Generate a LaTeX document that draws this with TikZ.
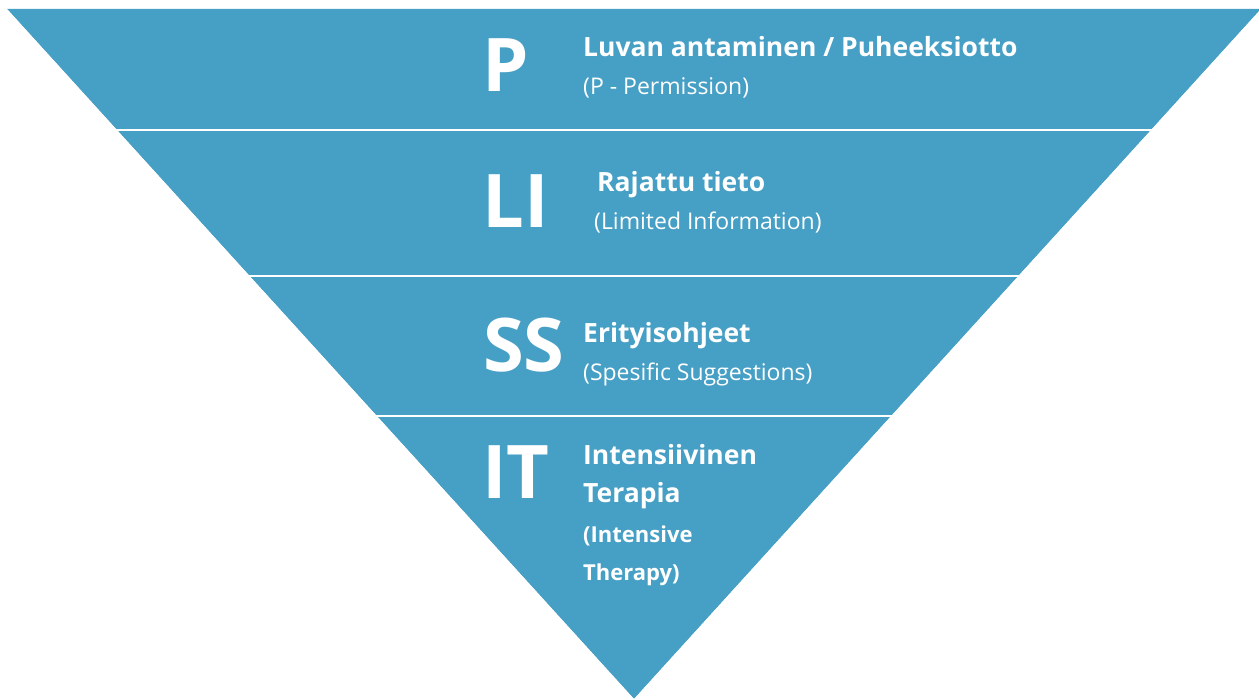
\documentclass[tikz,border=0pt]{standalone}
\usepackage{fontspec}
\setmainfont{Open Sans}
\definecolor{band}{RGB}{70,159,196}
\begin{document}
\begin{tikzpicture}[x=1pt,y=-1pt,
  big/.style={anchor=base west,inner sep=0pt,text=white,font=\bfseries\fontsize{74}{74}\selectfont},
  ttl/.style={anchor=base west,inner sep=0pt,text=white,font=\bfseries\fontsize{26.5}{26.5}\selectfont},
  sub/.style={anchor=base west,inner sep=0pt,text=white,font=\fontsize{23}{23}\selectfont},
  subb/.style={anchor=base west,inner sep=0pt,text=white,font=\bfseries\fontsize{22}{22}\selectfont},
  sep/.style={draw=white,line width=2pt}]
\useasboundingbox (0,0) rectangle (1259,700);
\fill[band] (7,9) -- (1261,9) -- (634,699) -- cycle;
\foreach \y in {130,276,416}{
  \draw[sep] ({7+(\y-9)*0.9087-3},\y) -- ({1261-(\y-9)*0.9087+3},\y);
}
\fill[white] (0,0) -- (7,9) -- (634,699) -- (0,699) -- cycle;
\fill[white] (1261,9) -- (1300,9) -- (1300,700) -- (634,699) -- cycle;
\node[big] (p) at (482,92) {P};
\node[ttl] (t1) at (583,57) {Luvan antaminen / Puheeksiotto};
\node[sub] (s1) at (583,95) {(P - Permission)};
\node[big] (li) at (482,228) {LI};
\node[ttl] (t2) at (597,192) {Rajattu tieto};
\node[sub] (s2) at (594,230) {(Limited Information)};
\node[big] (ss) at (483,372) {SS};
\node[ttl] (t3) at (583,343) {Erityisohjeet};
\node[sub] (s3) at (583,381) {(Spesific Suggestions)};
\node[big] (it) at (482,499) {IT};
\node[ttl] (t4a) at (583,465) {Intensiivinen};
\node[ttl] (t4b) at (583,503) {Terapia};
\node[subb] (s4a) at (583,542) {(Intensive};
\node[subb] (s4b) at (583,580) {Therapy)};
\end{tikzpicture}
\end{document}
